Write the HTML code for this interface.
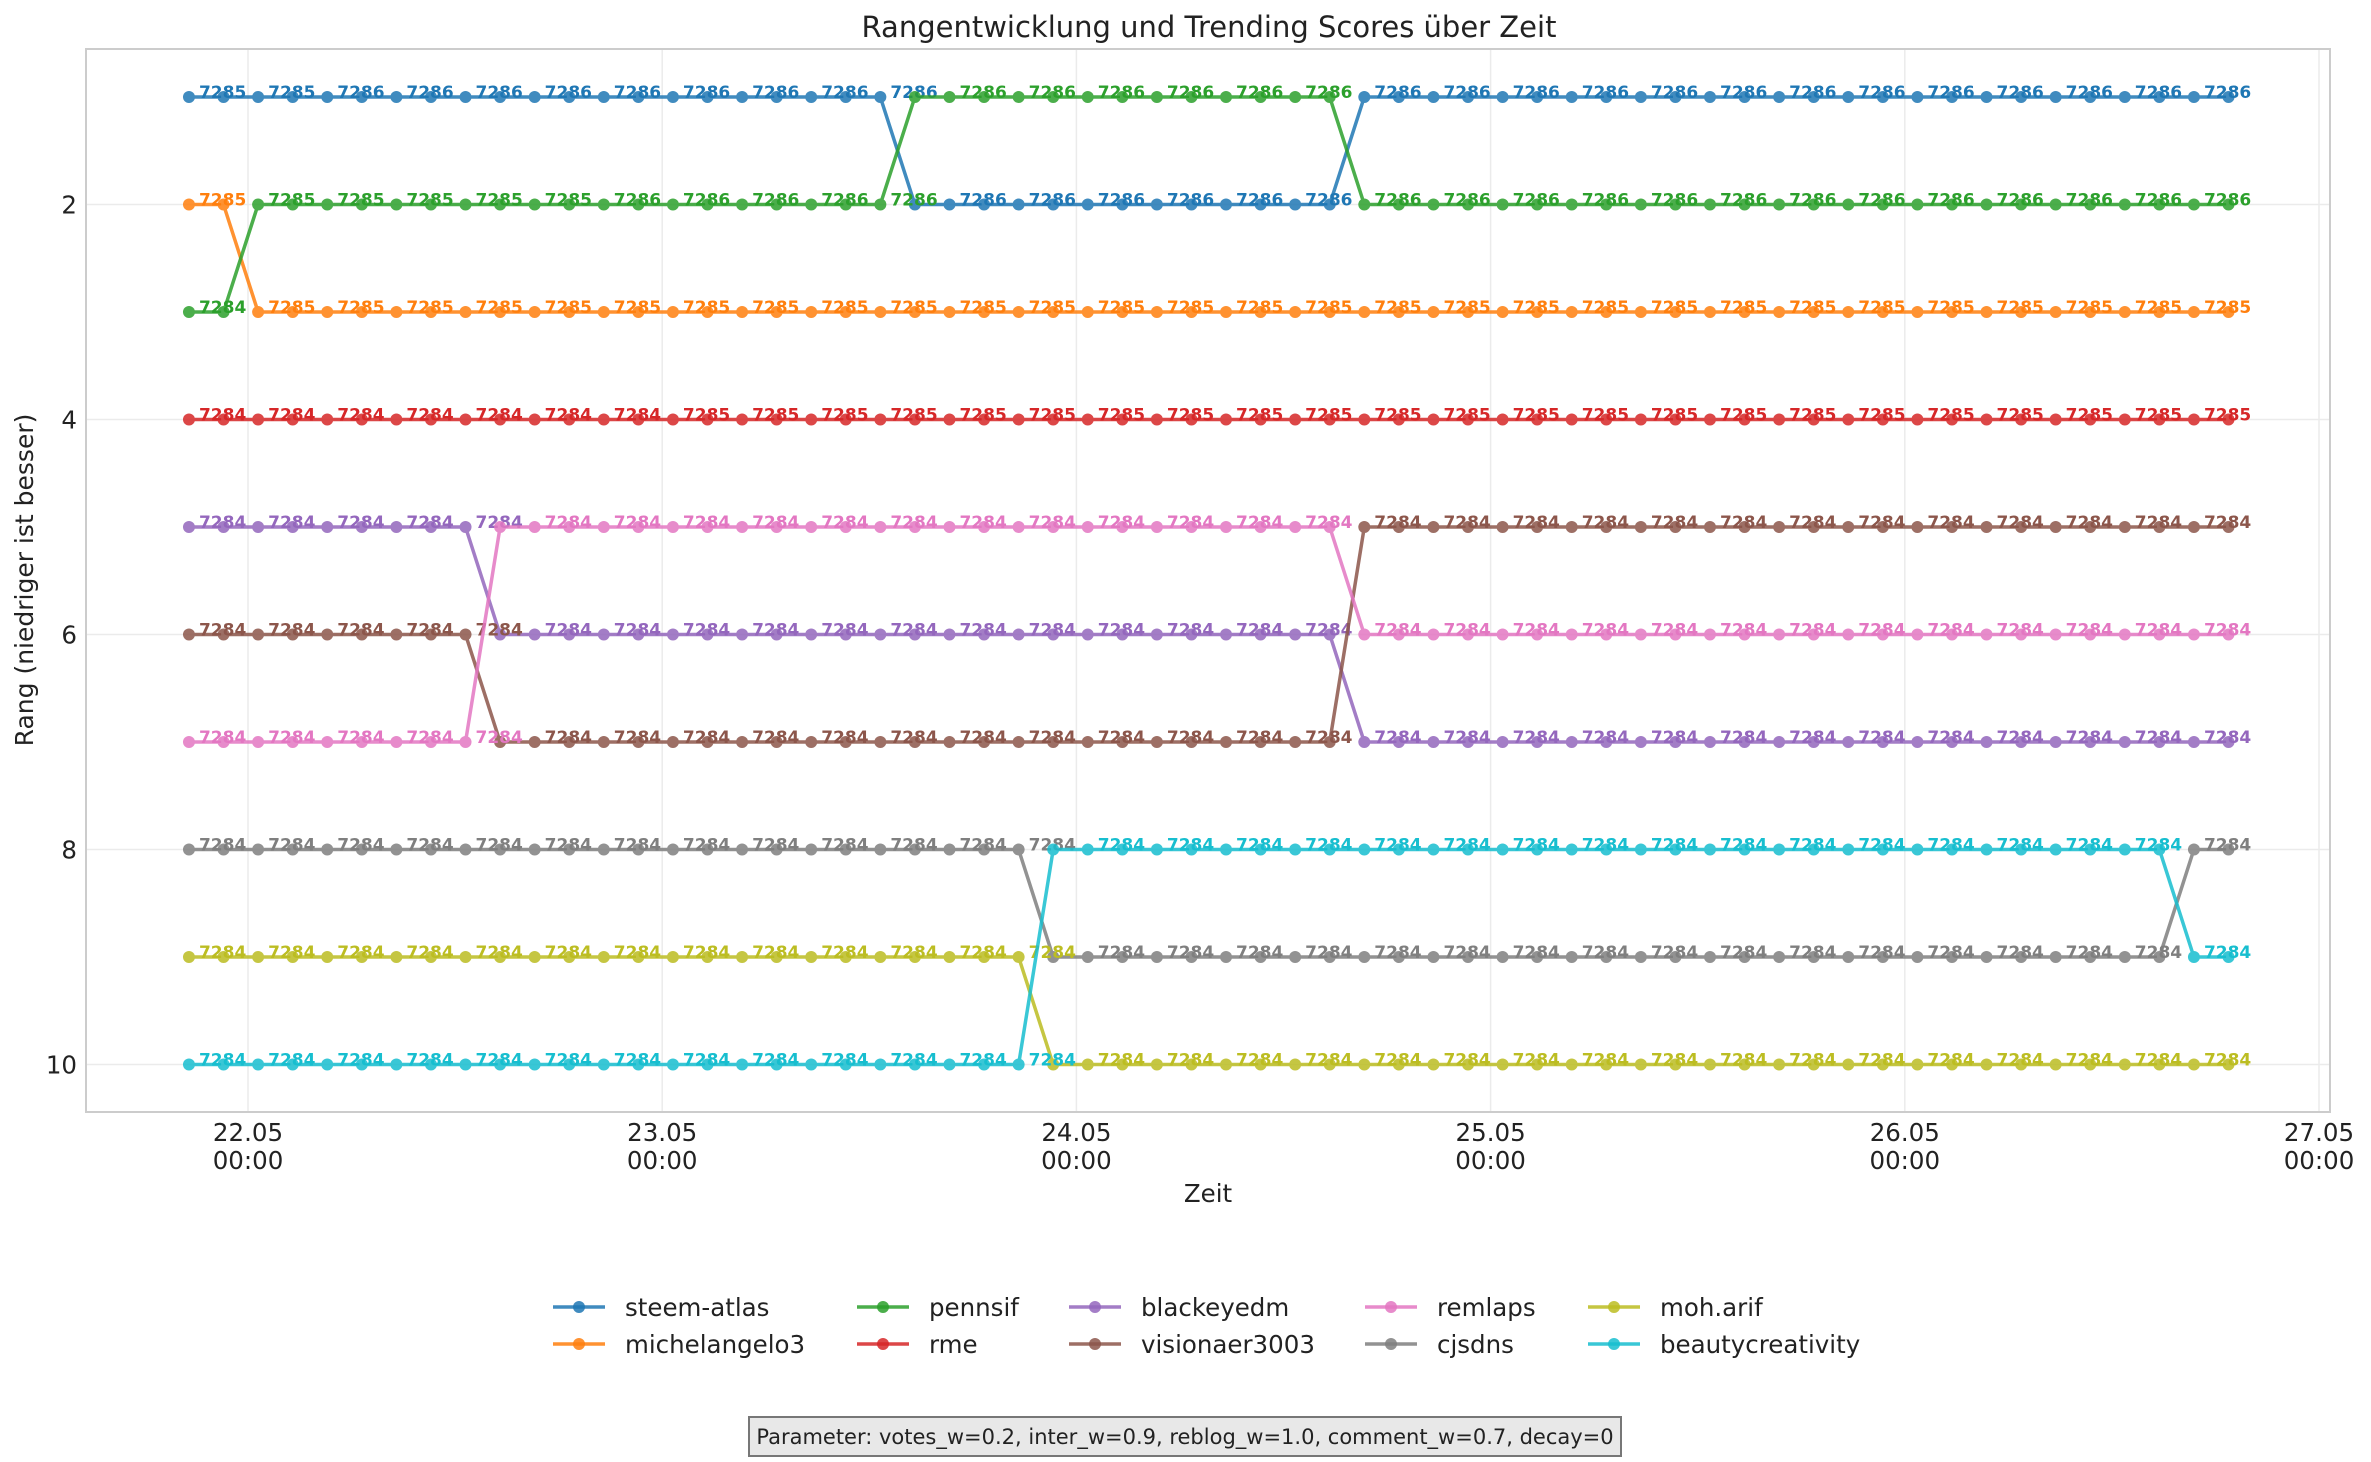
<!DOCTYPE html>
<html><head><meta charset="utf-8"><title>Rangentwicklung</title>
<style>
html,body{margin:0;padding:0;background:#fff;}
svg{display:block;font-family:"DejaVu Sans","Liberation Sans",sans-serif;}
</style></head>
<body>
<svg id="chart" width="2371" height="1462" viewBox="0 0 2371 1462" xmlns="http://www.w3.org/2000/svg">
<rect x="0" y="0" width="2371" height="1462" fill="#fff"/>
<text x="1209" y="37" font-size="29" text-anchor="middle" fill="#222">Rangentwicklung und Trending Scores über Zeit</text>
<g id="grid"></g>
<g id="series"></g>
<rect x="86" y="49" width="2244" height="1063" fill="none" stroke="#cccccc" stroke-width="2"/>
<g id="axes"></g>
<text x="1208" y="1202" font-size="24.5" text-anchor="middle" fill="#222">Zeit</text>
<text transform="translate(33,580) rotate(-90)" font-size="25" text-anchor="middle" fill="#222">Rang (niedriger ist besser)</text>
<g id="legend"></g>
<rect x="749" y="1417" width="872" height="39" fill="#e8e8e8" stroke="#777" stroke-width="2"/>
<text x="1185" y="1444" font-size="21" text-anchor="middle" fill="#222">Parameter: votes_w=0.2, inter_w=0.9, reblog_w=1.0, comment_w=0.7, decay=0</text>
</svg>
<script>
const seriesNames = ["steem-atlas","michelangelo3","pennsif","rme","blackeyedm","visionaer3003","remlaps","cjsdns","moh.arif","beautycreativity"];
const seriesColors = ["#1f77b4","#ff7f0e","#2ca02c","#d62728","#9467bd","#8c564b","#e377c2","#7f7f7f","#bcbd22","#17becf"];
const dayTickLabels = ["22.05","23.05","24.05","25.05","26.05","27.05"];
const yTicks = [2,4,6,8,10];
const nPoints = 60;
const startHour = -3.42;
const stepHours = 2.003;
// rank segments per series: [fromIndex, toIndex, rank]
const rankSteemAtlas = [[0,20,1],[21,33,2],[34,59,1]];
const rankMichelangelo3 = [[0,1,2],[2,59,3]];
const rankPennsif = [[0,1,3],[2,20,2],[21,33,1],[34,59,2]];
const rankRme = [[0,59,4]];
const rankBlackeyedm = [[0,8,5],[9,33,6],[34,59,7]];
const rankVisionaer = [[0,8,6],[9,33,7],[34,59,5]];
const rankRemlaps = [[0,8,7],[9,33,5],[34,59,6]];
const rankCjsdns = [[0,24,8],[25,57,9],[58,59,8]];
const rankMohArif = [[0,24,9],[25,59,10]];
const rankBeauty = [[0,24,10],[25,57,8],[58,59,9]];
// score labels at every even point index: [fromIndex, toIndex, score]
const scoreSteemAtlas = [[0,3,7285],[4,59,7286]];
const scoreMichelangelo3 = [[0,59,7285]];
const scorePennsif = [[0,1,7284],[2,11,7285],[12,59,7286]];
const scoreRme = [[0,13,7284],[14,59,7285]];
const scoreOther = [[0,59,7284]];

const rankSegs = [rankSteemAtlas,rankMichelangelo3,rankPennsif,rankRme,rankBlackeyedm,rankVisionaer,rankRemlaps,rankCjsdns,rankMohArif,rankBeauty];
const scoreSegs = [scoreSteemAtlas,scoreMichelangelo3,scorePennsif,scoreRme,scoreOther,scoreOther,scoreOther,scoreOther,scoreOther,scoreOther];

const NS="http://www.w3.org/2000/svg";
const X0=248, PXDAY=414.2, Y1=97, PXRANK=107.5;
function xScale(h){return X0 + h*PXDAY/24;}
function yScale(r){return Y1 + (r-1)*PXRANK;}
function mk(tag,attrs,parent){const e=document.createElementNS(NS,tag);for(const k in attrs)e.setAttribute(k,attrs[k]);parent.appendChild(e);return e;}
function expand(segs){const out=[];segs.forEach(s=>{for(let i=s[0];i<=s[1];i++)out[i]=s[2];});return out;}

const grid=document.getElementById('grid'), axes=document.getElementById('axes'), sg=document.getElementById('series'), lg=document.getElementById('legend');
yTicks.forEach(t=>{
  const l=mk('line',{x1:86,x2:2330,y1:yScale(t),y2:yScale(t),stroke:'#ebebeb','stroke-width':1.5},grid);
  
  
  const tx=mk('text',{x:77,y:yScale(t)+9,'font-size':24.5,'text-anchor':'end',fill:'#222'},axes);
  tx.textContent=t;
  
  
});
dayTickLabels.forEach((d,i)=>{
  const x=xScale(i*24);
  const l=mk('line',{x1:x,x2:x,y1:49,y2:1112,stroke:'#ebebeb','stroke-width':1.5},grid);
  
  
  const t1=mk('text',{x:x,y:1141,'font-size':24.5,'text-anchor':'middle',fill:'#222'},axes);
  t1.textContent=d;
  
  
  const t2=mk('text',{x:x,y:1169,'font-size':24.5,'text-anchor':'middle',fill:'#222'},axes);
  t2.textContent='00:00';
  
  
});
const hours=[];for(let i=0;i<nPoints;i++)hours.push(startHour+i*stepHours);

seriesNames.forEach((name,s)=>{
  const ranks=expand(rankSegs[s]), scores=expand(scoreSegs[s]), c=seriesColors[s];
  const g=mk('g',{opacity:0.85},sg);
  
  
  const pts=ranks.map((r,i)=>xScale(hours[i]).toFixed(1)+','+yScale(r).toFixed(1)).join(' ');
  const pl=mk('polyline',{points:pts,fill:'none',stroke:c,'stroke-width':3.5,'stroke-linejoin':'round'},g);
  
  
  ranks.forEach((r,i)=>{
    const cc=mk('circle',{cx:xScale(hours[i]),cy:yScale(r),r:6,fill:c},g);
    
    
  });
  ranks.forEach((r,i)=>{
    if(i%2!==0)return;
    const t=mk('text',{x:xScale(hours[i])+10,y:yScale(r)+1,'font-size':17,'font-weight':'bold',fill:c},sg);
    t.textContent=scores[i];
    
    
  });
});

const legX=[553,857,1069,1365,1588];
seriesNames.forEach((name,s)=>{
  const col=Math.floor(s/2), row=s%2;
  const x=legX[col], y=row===0?1307:1344;
  const g=mk('g',{},lg);
  
  
  mk('line',{x1:x,x2:x+52,y1:y,y2:y,stroke:seriesColors[s],'stroke-width':3.5,opacity:0.85},g);
  mk('circle',{cx:x+26,cy:y,r:6,fill:seriesColors[s],opacity:0.85},g);
  const t=mk('text',{x:x+72,y:y+9,'font-size':24.5,fill:'#222'},g);
  t.textContent=name;
});
</script>
</body></html>
